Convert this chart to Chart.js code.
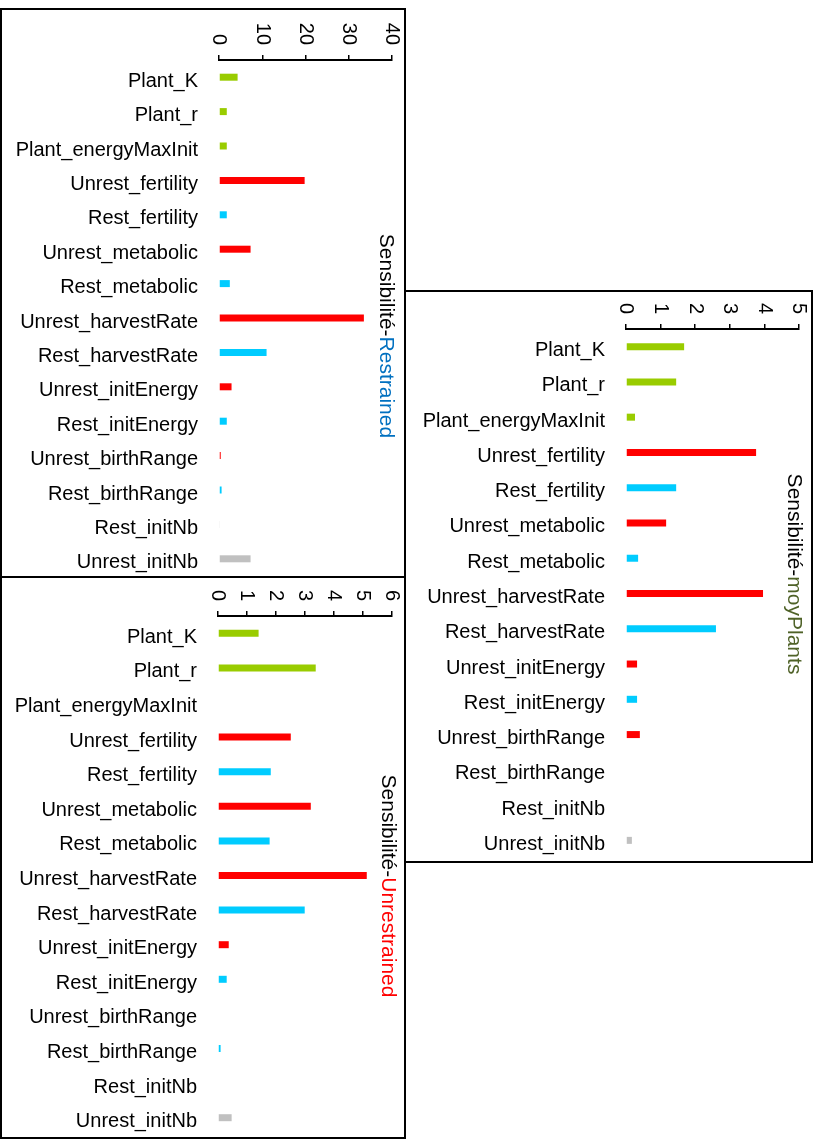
<!DOCTYPE html>
<html>
<head>
<meta charset="utf-8">
<script src="https://cdn.jsdelivr.net/npm/chart.js@4.4.0/dist/chart.umd.min.js"></script>
<style>
	body { margin: 0; background: #fff; width: 820px; height: 1140px; position: relative; overflow: hidden; }
	.box { position: absolute; border: 2px solid #000; background: #fff; }
	.box canvas { display: block; }
</style>
</head>
<body>
<div class="box" style="left:0px; top:8px;">
	<canvas id="chartRestrained" width="402" height="566"></canvas>
</div>
<div class="box" style="left:0px; top:576px;">
	<canvas id="chartUnrestrained" width="402" height="559"></canvas>
</div>
<div class="box" style="left:404px; top:290px;">
	<canvas id="chartMoyPlants" width="405" height="569"></canvas>
</div>

<script>
const categories = [
	'Plant_K',
	'Plant_r',
	'Plant_energyMaxInit',
	'Unrest_fertility',
	'Rest_fertility',
	'Unrest_metabolic',
	'Rest_metabolic',
	'Unrest_harvestRate',
	'Rest_harvestRate',
	'Unrest_initEnergy',
	'Rest_initEnergy',
	'Unrest_birthRange',
	'Rest_birthRange',
	'Rest_initNb',
	'Unrest_initNb',
];

const restrained = [4.3, 1.8, 1.8, 19.8, 1.8, 7.3, 2.5, 33.5, 11.0, 2.9, 1.8, 0.4, 0.6, 0.2, 7.3];
const moyPlants = [1.68, 1.45, 0.26, 3.76, 1.45, 1.16, 0.35, 3.96, 2.6, 0.32, 0.32, 0.4, 0, 0, 0.17];
const unrestrained = [1.4, 3.37, 0, 2.51, 1.82, 3.2, 1.78, 5.13, 2.99, 0.37, 0.3, 0, 0.09, 0, 0.47];

const ticksRestrained = [0, 10, 20, 30, 40];
const ticksMoyPlants = [0, 1, 2, 3, 4, 5];
const ticksUnrestrained = [0, 1, 2, 3, 4, 5, 6];

const FONT = "'Liberation Sans', Arial, sans-serif";

function barColor(name) {
	if (name.endsWith('initNb')) return '#C0C0C0';
	if (name.startsWith('Plant_')) return '#99CC00';
	if (name.startsWith('Unrest_')) return '#FF0000';
	return '#00CCFF';
}

// x tick labels turned a quarter clockwise, ending just above the axis
const rotatedTicks = {
	id: 'rotatedTicks',
	afterDraw(chart, args, opts) {
		const sx = chart.scales.x;
		const ctx = chart.ctx;
		ctx.save();
		ctx.font = `20px ${FONT}`;
		ctx.fillStyle = '#000';
		ctx.textAlign = 'right';
		ctx.textBaseline = 'middle';
		sx.ticks.forEach((t) => {
			const px = sx.getPixelForValue(t.value);
			ctx.save();
			ctx.translate(px, sx.bottom - opts.gap);
			ctx.rotate(Math.PI / 2);
			ctx.fillText(String(t.value), 0, 0);
			ctx.restore();
		});
		ctx.restore();
	},
};

// vertical title on the right, two colours
const sideTitle = {
	id: 'sideTitle',
	afterDraw(chart, args, opts) {
		const ctx = chart.ctx;
		ctx.save();
		ctx.font = `21px ${FONT}`;
		ctx.textBaseline = 'middle';
		ctx.textAlign = 'left';
		const total = opts.parts.reduce((s, p) => s + ctx.measureText(p.text).width, 0);
		ctx.translate(opts.x, opts.y);
		ctx.rotate(Math.PI / 2);
		let pos = -total / 2;
		opts.parts.forEach((p) => {
			ctx.fillStyle = p.color;
			ctx.fillText(p.text, pos, 0);
			pos += ctx.measureText(p.text).width;
		});
		ctx.restore();
	},
};

function makeChart(id, values, tickValues, layout, title) {
	const canvas = document.getElementById(id);
	return new Chart(canvas, {
		type: 'bar',
		data: {
			labels: categories,
			datasets: [
				{
					data: values.map((v) => (v === 0 ? null : v)),
					backgroundColor: categories.map(barColor),
					barThickness: 7,
					borderWidth: 0,
					inflateAmount: 0,
				},
			],
		},
		options: {
			indexAxis: 'y',
			responsive: false,
			animation: false,
			layout: {
				padding: { left: 0, right: layout.right, top: 0, bottom: layout.bottom },
			},
			scales: {
				x: {
					position: 'top',
					min: tickValues[0],
					max: tickValues[tickValues.length - 1],
					afterBuildTicks: (scale) => {
						scale.ticks = tickValues.map((v) => ({ value: v }));
					},
					afterFit: (scale) => {
						scale.height = layout.axisTop;
						scale.paddingLeft = 0;
						scale.paddingRight = 0;
					},
					ticks: { display: false },
					grid: {
						display: true,
						drawOnChartArea: false,
						drawTicks: true,
						tickLength: 5,
						color: '#000',
						lineWidth: 1.5,
					},
					border: { display: true, color: '#000', width: 2 },
				},
				y: {
					afterFit: (scale) => {
						scale.width = layout.axisLeft;
						scale.paddingTop = 0;
						scale.paddingBottom = 0;
					},
					grid: { display: false, drawTicks: false },
					border: { display: false },
					ticks: {
						color: '#000',
						font: { family: FONT, size: 20 },
						padding: 21,
						labelOffset: 4,
					},
				},
			},
			plugins: {
				legend: { display: false },
				tooltip: { enabled: false },
				rotatedTicks: { gap: 15 },
				sideTitle: title,
			},
		},
		plugins: [rotatedTicks, sideTitle],
	});
}

makeChart('chartRestrained', restrained, ticksRestrained,
	{ axisTop: 50, axisLeft: 217, right: 12, bottom: 0 },
	{ x: 384, y: 326, parts: [{ text: 'Sensibilité-', color: '#000' }, { text: 'Restrained', color: '#0070C0' }] });

makeChart('chartUnrestrained', unrestrained, ticksUnrestrained,
	{ axisTop: 38, axisLeft: 216, right: 12, bottom: 2 },
	{ x: 386, y: 308, parts: [{ text: 'Sensibilité-', color: '#000' }, { text: 'Unrestrained', color: '#FF0000' }] });

makeChart('chartMoyPlants', moyPlants, ticksMoyPlants,
	{ axisTop: 37, axisLeft: 220, right: 12, bottom: 3 },
	{ x: 388, y: 282, parts: [{ text: 'Sensibilité-', color: '#000' }, { text: 'moyPlants', color: '#4F6228' }] });
</script>
</body>
</html>
